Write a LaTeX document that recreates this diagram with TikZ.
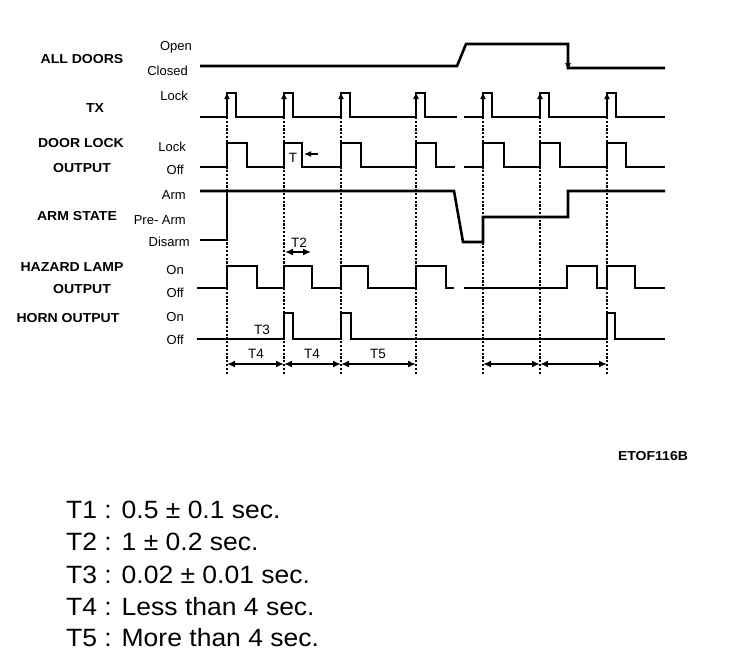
\documentclass[tikz,border=0pt]{standalone}
\usepackage{fontspec}
\setmainfont{Liberation Sans}
\newfontfamily\namefont[FakeStretch=1.08]{Liberation Sans}
\newfontfamily\legfont[FakeStretch=1.06]{Liberation Sans}
\usetikzlibrary{arrows.meta}

\begin{document}
\begin{tikzpicture}[x=1pt,y=-1pt,
  sig/.style={line width=2.6pt,line join=miter},
  evline/.style={line width=1.7pt,dash pattern=on 2.2pt off 1.6pt},
  tspan/.style={line width=1.6pt,{Latex[length=8pt,width=7pt]}-{Latex[length=8pt,width=7pt]}},
  tip/.style={line width=1.2pt,-{Latex[length=7pt,width=6pt]}},
  signame/.style={font=\namefont\bfseries\fontsize{13}{13}\selectfont},
  lvl/.style={anchor=east,inner sep=0pt,font=\fontsize{13}{13}\selectfont},
  tlabel/.style={inner sep=0pt,font=\fontsize{13.5}{13.5}\selectfont},
  legline/.style={anchor=west,inner sep=0pt,font=\legfont\fontsize{25}{25}\selectfont}]
\useasboundingbox (0,0) rectangle (736,662);

% signal names
\node[signame] (doors) at (82,59) {ALL DOORS};
\node[signame] (tx) at (95,108) {TX};
\node[signame] (lock1) at (81,143) {DOOR LOCK};
\node[signame] (lock2) at (82,168) {OUTPUT};
\node[signame] (arm) at (77,216) {ARM STATE};
\node[signame] (haz1) at (72,267) {HAZARD LAMP};
\node[signame] (haz2) at (82,289) {OUTPUT};
\node[signame] (horn) at (68,318) {HORN OUTPUT};

% levels
\node[lvl] (open) at (192,47) {Open};
\node[lvl] (closed) at (188,71) {Closed};
\node[lvl] (txlock) at (188,96) {Lock};
\node[lvl] (dllock) at (186,147) {Lock};
\node[lvl] (dloff) at (184,170) {Off};
\node[lvl] (armarm) at (186,195) {Arm};
\node[lvl] (prearm) at (186,220) {Pre- Arm};
\node[lvl] (disarm) at (190,242) {Disarm};
\node[lvl] (hzon) at (184,270) {On};
\node[lvl] (hzoff) at (184,293) {Off};
\node[lvl] (hnon) at (184,317) {On};
\node[lvl] (hnoff) at (184,340) {Off};

% event lines
\foreach \t [count=\i] in {227,284,341,416,483,540,607} {
  \draw[evline] (\t,117) -- (\t,375);
  \coordinate (ev\i) at (\t,364);
}

% all doors
\draw[sig] (200,66) -- (457,66) -- (466,44) -- (568,44) -- (568,68) -- (665,68);
\coordinate (dfall) at (568,70);
\coordinate (dtail) at (568,56);
\draw[tip] (dtail) -- (dfall);

% tx
\draw[sig] (200,117) \foreach \t in {227,284,341,416} {-- (\t,117) -- (\t,93) -- (\t+9,93) -- (\t+9,117)} -- (457,117);
\draw[sig] (464,117) \foreach \t in {483,540,607} {-- (\t,117) -- (\t,93) -- (\t+9,93) -- (\t+9,117)} -- (665,117);
\foreach \t in {227,284,341,416,483,540,607}
  \draw[tip] (\t,110) -- (\t,92);

% door lock output
\draw[sig] (200,167) \foreach \t/\u in {227/247,284/302,341/361,416/436} {-- (\t,167) -- (\t,143) -- (\u,143) -- (\u,167)} -- (455,167);
\draw[sig] (464,167) \foreach \t/\u in {483/504,540/560,607/626} {-- (\t,167) -- (\t,143) -- (\u,143) -- (\u,167)} -- (665,167);

% arm state
\draw[sig] (200,240) -- (227,240) -- (227,191);
\draw[sig] (200,191) -- (454,191) -- (463,242) -- (483,242) -- (483,217) -- (568,217) -- (568,191) -- (665,191);

% hazard lamp output
\draw[sig] (197,288) \foreach \t/\u in {227/257,284/312,341/368,416/446} {-- (\t,288) -- (\t,266) -- (\u,266) -- (\u,288)} -- (454,288);
\draw[sig] (464,288) \foreach \t/\u in {567/597,607/635} {-- (\t,288) -- (\t,266) -- (\u,266) -- (\u,288)} -- (665,288);

% horn output
\draw[sig] (197,339) \foreach \t/\u in {284/293,341/351,607/615} {-- (\t,339) -- (\t,313) -- (\u,313) -- (\u,339)} -- (665,339);

% timings
\node[tlabel] (tone) at (293,158) {T};
\coordinate (tonehead) at (304,154);
\coordinate (tonetail) at (318,154);
\draw[tip] (tonetail) -- (tonehead);
\node[tlabel] (ttwo) at (299,243) {T2};
\coordinate (ttwoa) at (285,252);
\coordinate (ttwob) at (311,252);
\draw[tspan] (ttwoa) -- (ttwob);
\node[tlabel] (tthree) at (262,330) {T3};
\draw[tspan] (ev1) -- (ev2);
\draw[tspan] (ev2) -- (ev3);
\draw[tspan] (ev3) -- (ev4);
\draw[tspan] (ev5) -- (ev6);
\draw[tspan] (ev6) -- (ev7);
\node[tlabel] (tfoura) at (256,354) {T4};
\node[tlabel] (tfourb) at (312,354) {T4};
\node[tlabel] (tfive) at (378,354) {T5};

\node[signame] (fig) at (653,456) {ETOF116B};

% legend
\node[legline] (leg1) at (66,510) {T1 : 0.5 ± 0.1 sec.};
\node[legline] (leg2) at (66,542) {T2 : 1 ± 0.2 sec.};
\node[legline] (leg3) at (66,575) {T3 : 0.02 ± 0.01 sec.};
\node[legline] (leg4) at (66,607) {T4 : Less than 4 sec.};
\node[legline] (leg5) at (66,638) {T5 : More than 4 sec.};
\end{tikzpicture}
\end{document}
